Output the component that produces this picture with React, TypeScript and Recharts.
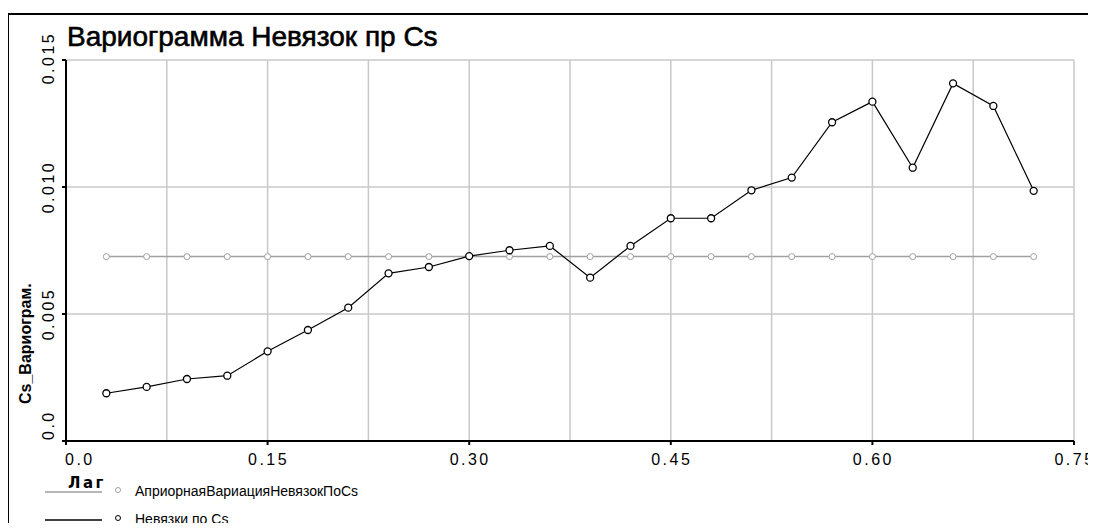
import React from 'react';
import { LineChart, Line, XAxis, YAxis, CartesianGrid, Legend } from 'recharts';

const lags = [0.03, 0.06, 0.09, 0.12, 0.15, 0.18, 0.21, 0.24, 0.27, 0.30, 0.33, 0.36, 0.39, 0.42, 0.45, 0.48, 0.51, 0.54, 0.57, 0.60, 0.63, 0.66, 0.69, 0.72];
const aprioriValues = [0.00726, 0.00726, 0.00726, 0.00726, 0.00726, 0.00726, 0.00726, 0.00726, 0.00726, 0.00726, 0.00726, 0.00726, 0.00726, 0.00726, 0.00726, 0.00726, 0.00726, 0.00726, 0.00726, 0.00726, 0.00726, 0.00726, 0.00726, 0.00726];
const residualValues = [0.00188, 0.00213, 0.00244, 0.00257, 0.00353, 0.00437, 0.00525, 0.0066, 0.00685, 0.00728, 0.00751, 0.00768, 0.00643, 0.00768, 0.00877, 0.00877, 0.00987, 0.01037, 0.01255, 0.01336, 0.01076, 0.01408, 0.01319, 0.00985];

const xTicks = [0, 0.075, 0.15, 0.225, 0.3, 0.375, 0.45, 0.525, 0.6, 0.675, 0.75];
const xTickLabels = ['0.0', '', '0.15', '', '0.30', '', '0.45', '', '0.60', '', '0.75'];
const yTicks = [0, 0.005, 0.01, 0.015];
const yTickLabels = ['0.0', '0.005', '0.010', '0.015'];

const seriesNames = ['АприорнаяВариацияНевязокПоCs', 'Невязки по Cs'];
const title = 'Вариограмма Невязок пр Cs';
const xLabel = 'Лаг';
const yLabel = 'Cs_Вариограм.';

const data = lags.map((lag, i) => ({ lag, apriori: aprioriValues[i], residual: residualValues[i] }));

const tickFont = '"Liberation Sans", Arial, sans-serif';

const XTick = (props: any) => {
  const { x, y, payload, index } = props;
  const label = xTickLabels[xTicks.indexOf(payload.value)] ?? '';
  if (!label) return <g />;
  const anchor = index === 0 ? 'start' : 'middle';
  return (
    <g>
      <line x1={x} y1={y} x2={x} y2={y + 4} stroke="#000" strokeWidth={2} />
      <text x={index === 0 ? x - 1 : x + 1} y={y + 24} textAnchor={anchor} fontFamily={tickFont} fontSize={16} letterSpacing={2.5} fill="#000">
        {label}
      </text>
    </g>
  );
};

const YTick = (props: any) => {
  const { x, y, payload } = props;
  const idx = yTicks.indexOf(payload.value);
  const label = yTickLabels[idx] ?? '';
  const tx = x - 12;
  let ty = y;
  let anchor = 'middle';
  if (idx === 0) {
    anchor = 'start';
    ty = y - 1;
  } else if (idx === yTicks.length - 1) {
    ty = y - 2;
  }
  return (
    <g>
      <line x1={x - 4} y1={y} x2={x} y2={y} stroke="#000" strokeWidth={2} />
      <text x={tx} y={ty} textAnchor={anchor} transform={`rotate(-90, ${tx}, ${ty})`} fontFamily={tickFont} fontSize={16} letterSpacing={2.5} fill="#000">
        {label}
      </text>
    </g>
  );
};

const XLabel = (props: any) => {
  const { viewBox } = props;
  return (
    <text x={viewBox.x + 2} y={viewBox.y + 47} fontFamily='"DejaVu Sans", sans-serif' fontWeight="bold" fontSize={15} letterSpacing={2.5} fill="#000">
      {xLabel}
    </text>
  );
};

const YLabel = (props: any) => {
  const { viewBox } = props;
  const lx = viewBox.x + 5;
  const ly = viewBox.y + viewBox.height - 37;
  return (
    <text x={lx} y={ly} textAnchor="start" transform={`rotate(-90, ${lx}, ${ly})`} fontFamily={tickFont} fontWeight="bold" fontSize={16} fill="#000">
      {yLabel}
    </text>
  );
};

const LegendContent = (props: any) => {
  const { payload } = props;
  return (
    <svg width={420} height={53} style={{ display: 'block' }}>
      {(payload || []).map((item: any, i: number) => {
        const cy = 12 + 28 * i;
        const color = item.color;
        return (
          <g key={i}>
            <line x1={45} y1={cy + 2} x2={102} y2={cy + 2} stroke={color} strokeWidth={1.5} />
            <circle cx={118} cy={cy} r={2.5} fill="#fff" stroke={color} strokeWidth={1} />
            <text x={135} y={cy + 6} fontFamily={tickFont} fontSize={14} fill="#000">
              {item.value}
            </text>
          </g>
        );
      })}
    </svg>
  );
};

export default function App() {
  return (
    <div style={{ position: 'relative', width: 1096, height: 531, margin: -8, overflow: 'hidden', background: '#fff' }}>
      <div style={{ position: 'absolute', left: 7, top: 13, width: 1200, height: 600, borderLeft: '2px solid #000', borderTop: '2px solid #000' }} />
      <div style={{ position: 'absolute', left: 67, top: 23, fontFamily: tickFont, fontSize: 28, fontWeight: 'normal', lineHeight: '28px', color: '#000', whiteSpace: 'nowrap', WebkitTextStroke: '0.6px #000' }}>
        {title}
      </div>
      <div style={{ position: 'absolute', left: 0, top: 0 }}>
        <LineChart width={1096} height={531} data={data} margin={{ top: 60, right: 22, bottom: 60, left: 26 }}>
          <CartesianGrid stroke="#c8c8c8" strokeWidth={1.5} verticalFill={[]} horizontalFill={[]} />
          <XAxis
            dataKey="lag"
            type="number"
            domain={[0, 0.75]}
            ticks={xTicks}
            interval={0}
            height={30}
            tickSize={0}
            tickMargin={0}
            tickLine={false}
            axisLine={{ stroke: '#000', strokeWidth: 2 }}
            tick={<XTick />}
            label={<XLabel />}
            allowDataOverflow
          />
          <XAxis xAxisId="top" orientation="top" dataKey="lag" type="number" domain={[0, 0.75]} height={0} tick={false} tickLine={false} axisLine={{ stroke: '#333', strokeWidth: 2 }} />
          <YAxis
            type="number"
            domain={[0, 0.015]}
            ticks={yTicks}
            interval={0}
            width={40}
            tickSize={0}
            tickMargin={0}
            tickLine={false}
            axisLine={{ stroke: '#000', strokeWidth: 2 }}
            tick={<YTick />}
            label={<YLabel />}
            allowDataOverflow
          />
          <YAxis yAxisId="right" orientation="right" type="number" domain={[0, 0.015]} width={0} tick={false} tickLine={false} axisLine={{ stroke: '#333', strokeWidth: 2 }} />
          <Legend
            layout="vertical"
            align="center"
            verticalAlign="middle"
            wrapperStyle={{ position: 'absolute', left: 0, top: 478, width: 420, height: 53 }}
            content={<LegendContent />}
          />
          <Line
            name={seriesNames[0]}
            dataKey="apriori"
            stroke="#a0a0a0"
            strokeWidth={1.5}
            dot={{ r: 3, fill: '#fff', stroke: '#a0a0a0', strokeWidth: 1 }}
            activeDot={false}
            isAnimationActive={false}
          />
          <Line
            name={seriesNames[1]}
            dataKey="residual"
            stroke="#000"
            strokeWidth={1.2}
            dot={{ r: 3.5, fill: '#fff', stroke: '#000', strokeWidth: 1.3 }}
            activeDot={false}
            isAnimationActive={false}
          />
        </LineChart>
      </div>
    </div>
  );
}
